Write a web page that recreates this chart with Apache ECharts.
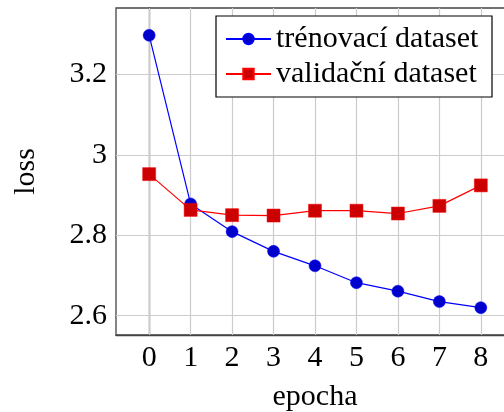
<!DOCTYPE html>
<html><head><meta charset="utf-8">
<script src="https://cdn.jsdelivr.net/npm/echarts@6/dist/echarts.min.js"></script>
<style>html,body{margin:0;padding:0;background:#fff}#c{width:504px;height:412px}</style>
</head><body><div id="c"></div>
<script>
const epochs = [0, 1, 2, 3, 4, 5, 6, 7, 8];
const trainLoss = [3.297, 2.878, 2.809, 2.760, 2.724, 2.682, 2.661, 2.635, 2.620];
const valLoss = [2.952, 2.863, 2.850, 2.849, 2.861, 2.861, 2.854, 2.873, 2.924];
const yTicks = [2.6, 2.8, 3.0, 3.2];
const seriesNames = ['trénovací dataset', 'validační dataset'];

const FONT = 'Liberation Serif';
const FS = 30;
const chart = echarts.init(document.getElementById('c'), null, {renderer: 'canvas'});
const tickStyle = {show: true, inside: true, length: 4, lineStyle: {color: '#444', width: 1}};
chart.setOption({
  animation: false,
  textStyle: {fontFamily: FONT},
  grid: {left: 116, right: -10, top: 8, bottom: 77, show: true, borderColor: '#444', borderWidth: 1.3,
    outerBoundsMode: 'none'},
  legend: {
    selectedMode: false,
    orient: 'vertical',
    left: 216, top: 16,
    backgroundColor: '#fff',
    borderColor: '#000', borderWidth: 1.2, borderRadius: 0,
    padding: [8, 2, 8, 9],
    itemWidth: 45, itemHeight: 13, itemGap: 5,
    textStyle: {fontFamily: FONT, fontSize: FS, color: '#000', lineHeight: 30, width: 214},
    data: seriesNames
  },
  xAxis: {
    type: 'value', min: -0.8, max: 8.8,
    name: 'epocha', nameLocation: 'middle', nameGap: 47,
    nameTextStyle: {fontFamily: FONT, fontSize: FS, color: '#000'},
    axisLine: {show: true, lineStyle: {color: '#444', width: 1.3}},
    axisTick: Object.assign({customValues: epochs}, tickStyle),
    axisLabel: {customValues: epochs, fontFamily: FONT, fontSize: FS, color: '#000', margin: 8},
    splitLine: {show: false}
  },
  yAxis: {
    type: 'value', min: 2.552, max: 3.365,
    name: 'loss', nameLocation: 'middle', nameGap: 75, nameRotate: 90,
    nameTextStyle: {fontFamily: FONT, fontSize: FS, color: '#000'},
    axisLine: {show: true, lineStyle: {color: '#444', width: 1.3}},
    axisTick: Object.assign({customValues: yTicks}, tickStyle),
    axisLabel: {customValues: yTicks, fontFamily: FONT, fontSize: FS, color: '#000', margin: 9,
      formatter: v => String(Math.round(v * 10) / 10)},
    splitLine: {show: false}
  },
  series: [
    {
      name: seriesNames[0], type: 'line',
      data: epochs.map((e, i) => [e, trainLoss[i]]),
      symbol: 'circle', symbolSize: 12,
      lineStyle: {color: '#0000ff', width: 1.2},
      itemStyle: {color: '#0000cc', borderColor: '#0000ff', borderWidth: 0.5},
      z: 3,
      markLine: {
        silent: true, symbol: 'none', label: {show: false}, z: 1,
        lineStyle: {color: '#cccccc', width: 1.2, type: 'solid'},
        data: epochs.map(e => ({xAxis: e})).concat(yTicks.map(t => ({yAxis: t})))
      }
    },
    {
      name: seriesNames[1], type: 'line',
      data: epochs.map((e, i) => [e, valLoss[i]]),
      symbol: 'rect', symbolSize: 13,
      lineStyle: {color: '#ff0000', width: 1.2},
      itemStyle: {color: '#cc0000', borderColor: '#ff0000', borderWidth: 0.5},
      z: 4
    }
  ]
});
</script></body></html>
